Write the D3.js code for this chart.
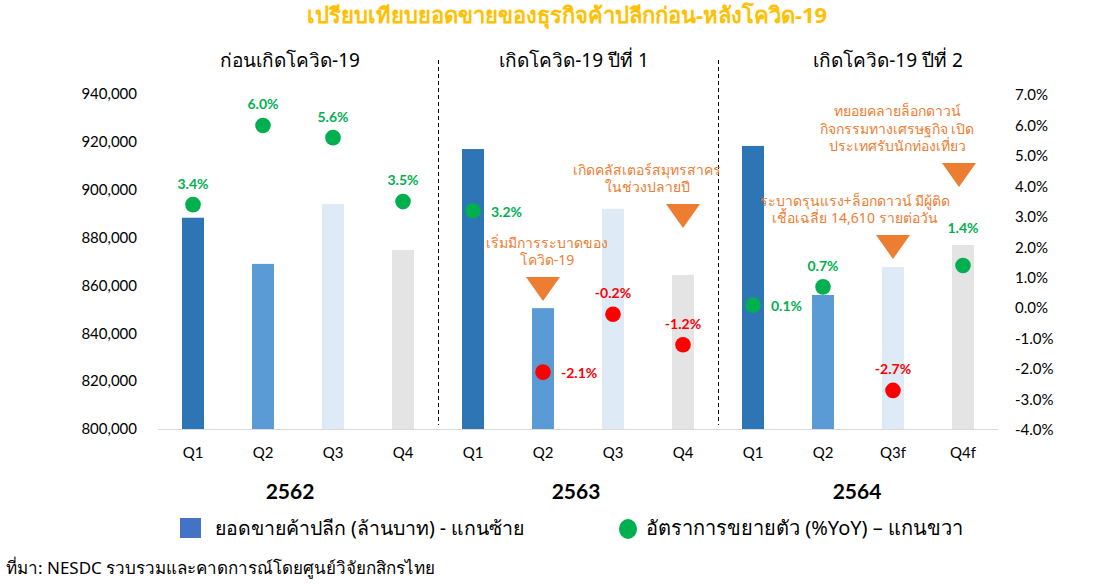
<!DOCTYPE html>
<html>
<head>
<meta charset="utf-8">
<script src="https://cdn.jsdelivr.net/npm/d3@7"></script>
<style>
  body { margin: 0; background: #fff; }
  text { font-family: Lato, "Noto Sans", "DejaVu Sans", sans-serif; }
  .thai { font-family: "Noto Sans", "DejaVu Sans", sans-serif; }
</style>
</head>
<body>
<div id="chart"></div>
<script>
const width = 1119
const height = 584

// data
const quarters = ['Q1', 'Q2', 'Q3', 'Q4', 'Q1', 'Q2', 'Q3', 'Q4', 'Q1', 'Q2', 'Q3f', 'Q4f']
const years = ['2562', '2563', '2564']
const groupTitles = ['ก่อนเกิดโควิด-19', 'เกิดโควิด-19 ปีที่ 1', 'เกิดโควิด-19 ปีที่ 2']
const sales = [888300, 869000, 894000, 874800, 917000, 850500, 892000, 864400, 918300, 856000, 867700, 876900]
const growth = [3.4, 6.0, 5.6, 3.5, 3.2, -2.1, -0.2, -1.2, 0.1, 0.7, -2.7, 1.4]
const labelPlacement = ['above', 'above', 'above', 'above', 'right', 'right', 'above', 'above', 'right', 'above', 'above', 'high']
const leftTicks = [800000, 820000, 840000, 860000, 880000, 900000, 920000, 940000]
const rightTicks = [-4, -3, -2, -1, 0, 1, 2, 3, 4, 5, 6, 7]
const notes = [
  { index: 5, lines: ['เริ่มมีการระบาดของ', 'โควิด-19'] },
  { index: 7, lines: ['เกิดคลัสเตอร์สมุทรสาคร', 'ในช่วงปลายปี'] },
  { index: 10, lines: ['ระบาดรุนแรง+ล็อกดาวน์ มีผู้ติด', 'เชื้อเฉลี่ย 14,610 รายต่อวัน'] },
  { index: 11, lines: ['ทยอยคลายล็อกดาวน์', 'กิจกรรมทางเศรษฐกิจ เปิด', 'ประเทศรับนักท่องเที่ยว'] }
]

// layout of the annotations (triangle top, text shift, triangle shift)
const noteTop = [277, 204, 235, 163]
const noteTextDx = [4, -36, -38, -66]
const noteTriDx = [0, 0, 0, -4]

const quarterColors = ['#2E75B6', '#5B9BD5', '#DEEBF7', '#E4E4E4']
const orange = '#ED7D31'

const svg = d3.select('#chart')
  .append('svg')
  .attr('width', width)
  .attr('height', height)

const plotTop = 94
const plotBottom = 429

const x = d3.scaleBand()
  .domain(d3.range(quarters.length))
  .range([158, 998])
  .paddingInner(0.686)
  .paddingOuter(0.343)

const yLeft = d3.scaleLinear()
  .domain([800000, 940000])
  .range([plotBottom, plotTop])

const yRight = d3.scaleLinear()
  .domain([-4, 7])
  .range([plotBottom + 1, plotTop + 1])

const cx = (i) => x(i) + x.bandwidth() / 2
const groupCenters = [290, 574, 888]
const yearCenters = [290, 576, 857]

// title
svg.append('text')
  .attr('class', 'thai')
  .attr('x', 567)
  .attr('y', 23)
  .attr('text-anchor', 'middle')
  .attr('font-size', 22)
  .attr('font-weight', 'bold')
  .attr('fill', '#FFC000')
  .text('เปรียบเทียบยอดขายของธุรกิจค้าปลีกก่อน-หลังโควิด-19')

// group titles over each year
groupTitles.forEach((t, g) => {
  svg.append('text')
    .attr('class', 'thai')
    .attr('x', groupCenters[g])
    .attr('y', 67)
    .attr('text-anchor', 'middle')
    .attr('font-size', 19)
    .attr('fill', '#000')
    .text(t)
})

// dashed separators
;[4, 8].forEach((i) => {
  const sx = Math.round(x(i) - (x.step() - x.bandwidth()) / 2) + 0.5
  svg.append('line')
    .attr('x1', sx)
    .attr('x2', sx)
    .attr('y1', 60)
    .attr('y2', 425)
    .attr('stroke', '#000')
    .attr('stroke-width', 1)
    .attr('stroke-dasharray', '4,3')
})

// left axis
const axisL = svg.append('g')
  .attr('transform', 'translate(137,0)')
  .call(d3.axisLeft(yLeft).tickValues(leftTicks).tickFormat(d3.format(',')).tickSize(0).tickPadding(0))
axisL.select('.domain').remove()
axisL.selectAll('text').attr('font-size', 15).attr('fill', '#000').style('font-family', 'Lato, sans-serif')

// right axis
const axisR = svg.append('g')
  .attr('transform', 'translate(1015,0)')
  .call(d3.axisRight(yRight).tickValues(rightTicks).tickFormat((d) => d.toFixed(1) + '%').tickSize(0).tickPadding(0))
axisR.select('.domain').remove()
axisR.selectAll('text').attr('font-size', 15).attr('fill', '#000').style('font-family', 'Lato, sans-serif')

// bars
svg.append('g')
  .selectAll('rect')
  .data(sales)
  .enter()
  .append('rect')
  .attr('x', (d, i) => x(i))
  .attr('y', (d) => yLeft(d))
  .attr('width', x.bandwidth())
  .attr('height', (d) => plotBottom - yLeft(d))
  .attr('fill', (d, i) => quarterColors[i % 4])

// baseline
svg.append('line')
  .attr('x1', 158)
  .attr('x2', 998)
  .attr('y1', plotBottom + 0.5)
  .attr('y2', plotBottom + 0.5)
  .attr('stroke', '#D9D9D9')
  .attr('stroke-width', 1)

// x labels
svg.append('g')
  .selectAll('text')
  .data(quarters)
  .enter()
  .append('text')
  .attr('x', (d, i) => cx(i))
  .attr('y', 458)
  .attr('text-anchor', 'middle')
  .attr('font-size', 15)
  .attr('fill', '#000')
  .text((d) => d)

years.forEach((yr, g) => {
  svg.append('text')
    .attr('x', yearCenters[g])
    .attr('y', 499)
    .attr('text-anchor', 'middle')
    .attr('font-size', 21)
    .attr('font-weight', 'bold')
    .attr('fill', '#000')
    .text(yr)
})

// growth dots
const dotColor = (d) => (d < 0 ? '#FF0000' : '#00B050')

svg.append('g')
  .selectAll('circle')
  .data(growth)
  .enter()
  .append('circle')
  .attr('cx', (d, i) => cx(i))
  .attr('cy', (d) => yRight(d))
  .attr('r', 7.8)
  .attr('fill', dotColor)

svg.append('g')
  .selectAll('text')
  .data(growth)
  .enter()
  .append('text')
  .attr('x', (d, i) => labelPlacement[i] === 'right' ? cx(i) + 18 : cx(i))
  .attr('y', (d, i) => {
    const p = labelPlacement[i]
    if (p === 'right') return yRight(d) + 1
    if (p === 'high') return yRight(d) - 37
    return yRight(d) - 21
  })
  .attr('dy', '0.35em')
  .attr('text-anchor', (d, i) => labelPlacement[i] === 'right' ? 'start' : 'middle')
  .attr('font-size', 14)
  .attr('font-weight', 'bold')
  .attr('fill', dotColor)
  .text((d) => d.toFixed(1) + '%')

// annotations
notes.forEach((n, k) => {
  const top = noteTop[k]
  const tx = cx(n.index) + noteTriDx[k]
  svg.append('path')
    .attr('d', `M${tx - 17},${top} L${tx + 17},${top} L${tx},${top + 24} Z`)
    .attr('fill', orange)
  const lh = 17.5
  const t = svg.append('text')
    .attr('class', 'thai')
    .attr('text-anchor', 'middle')
    .attr('font-size', 14)
    .attr('fill', orange)
  n.lines.forEach((line, j) => {
    t.append('tspan')
      .attr('x', cx(n.index) + noteTextDx[k])
      .attr('y', top - 12 - (n.lines.length - 1 - j) * lh)
      .text(line)
  })
})

// legend
svg.append('rect')
  .attr('x', 180)
  .attr('y', 518)
  .attr('width', 21)
  .attr('height', 20)
  .attr('fill', '#4472C4')
svg.append('text')
  .attr('class', 'thai')
  .attr('x', 215)
  .attr('y', 535)
  .attr('font-size', 19.5)
  .attr('fill', '#000')
  .text('ยอดขายค้าปลีก (ล้านบาท) - แกนซ้าย')

svg.append('ellipse')
  .attr('cx', 628)
  .attr('cy', 529)
  .attr('rx', 9)
  .attr('ry', 10)
  .attr('fill', '#00B050')
svg.append('text')
  .attr('class', 'thai')
  .attr('x', 646)
  .attr('y', 535)
  .attr('font-size', 20)
  .attr('fill', '#000')
  .text('อัตราการขยายตัว (%YoY) – แกนขวา')

// source
svg.append('text')
  .attr('class', 'thai')
  .attr('x', 6)
  .attr('y', 574)
  .attr('font-size', 17)
  .attr('fill', '#000')
  .text('ที่มา: NESDC รวบรวมและคาดการณ์โดยศูนย์วิจัยกสิกรไทย')
</script>
</body>
</html>
